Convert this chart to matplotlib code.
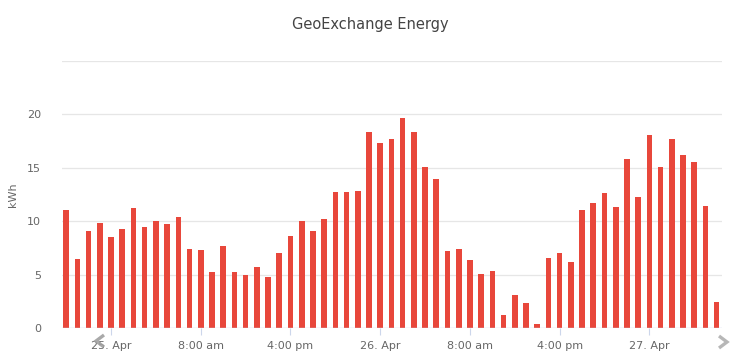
import matplotlib
matplotlib.use("Agg")
import matplotlib.pyplot as plt
from matplotlib.lines import Line2D

# Hours relative to 25 Apr 00:00 (one column per hour)
hours = list(range(-4, 55))
values = [11.1, 6.5, 9.1, 9.8, 8.5, 9.3, 11.2, 9.5, 10.0, 9.75, 10.4, 7.45,
          7.3, 5.25, 7.65, 5.25, 4.95, 5.7, 4.8, 7.0, 8.65, 10.0, 9.1, 10.2,
          12.75, 12.7, 12.85, 18.35, 17.3, 17.7, 19.65, 18.3, 15.05, 14.0,
          7.25, 7.4, 6.4, 5.1, 5.35, 1.2, 3.1, 2.4, 0.4, 6.6, 7.0, 6.2, 11.1,
          11.75, 12.6, 11.3, 15.8, 12.3, 18.1, 15.1, 17.65, 16.2, 15.55,
          11.4, 2.5]
tick_hours = [0, 8, 16, 24, 32, 40, 48]
tick_labels = ["25. Apr", "8:00 am", "4:00 pm", "26. Apr", "8:00 am", "4:00 pm", "27. Apr"]
y_ticks = [0, 5, 10, 15, 20]
title = "GeoExchange Energy"
y_label = "kWh"

W, H = 740, 358
fig = plt.figure(figsize=(W / 100, H / 100), dpi=100)
fig.patch.set_facecolor("white")
left, right, bottom, top = 61.7, 721.7, 328.3, 60.8
ax = fig.add_axes([left / W, 1 - bottom / H, (right - left) / W, (bottom - top) / H])

ax.bar(hours, values, width=0.5, color="#e8473b", zorder=2)
ax.set_xlim(-4.4, 54.45)
ax.set_ylim(0, 25)

for y in [5, 10, 15, 20, 25]:
    ax.axhline(y, color="#e6e6e6", lw=0.9, zorder=1)
ax.axhline(0, color="#ccd6eb", lw=1.0, zorder=3)

for s in ax.spines.values():
    s.set_visible(False)

ax.set_yticks(y_ticks)
ax.set_yticklabels([str(v) for v in y_ticks])
ax.set_xticks(tick_hours)
ax.set_xticklabels(tick_labels)
ax.tick_params(axis="y", length=0, pad=15, labelsize=8, labelcolor="#666666")
ax.tick_params(axis="x", length=5, width=0.8, color="#ccd6eb", pad=4,
               labelsize=8, labelcolor="#666666", direction="out")
for lbl in ax.get_yticklabels():
    lbl.set_horizontalalignment("right")

ax.set_ylabel(y_label, fontsize=8, color="#666666", labelpad=12)
ax.yaxis.set_label_coords(-44 / 660, 0.5)

fig.text(370 / W, 1 - 25 / H, title, ha="center", va="center",
         fontsize=10.5, color="#444444")

# navigation chevrons
def chevron(xc, yc, direction, color):
    dx = 4 * direction
    fig.add_artist(Line2D([(xc - dx) / W, (xc + dx) / W, (xc - dx) / W],
                          [1 - (yc - 6) / H, 1 - yc / H, 1 - (yc + 6) / H],
                          color=color, lw=2.4, solid_joinstyle="miter",
                          solid_capstyle="butt", alpha=0.9))

chevron(100, 341, -1, "#a0a0a0")
chevron(723, 342, 1, "#b0b0b0")

fig.savefig("out.png", dpi=100, facecolor="white")
